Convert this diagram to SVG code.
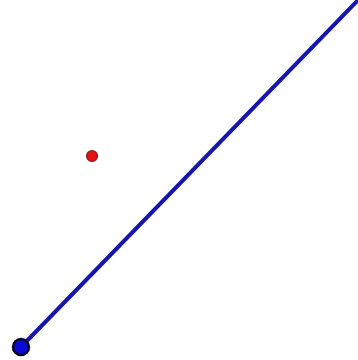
<svg xmlns="http://www.w3.org/2000/svg" width="358" height="360" viewBox="0 0 358 360">
<style>
.ln{stroke:#1515b0;stroke-width:4;fill:none;stroke-linecap:round}
</style>
<rect width="358" height="360" fill="#ffffff"/>
<g id="connectors">
<line class="ln" x1="21" y1="347" x2="362" y2="-4"/>
</g>
<g id="pointA">
<circle cx="21" cy="347" r="8" fill="#0a0ad8" stroke="#0a0a25" stroke-width="2.5"/>
</g>
<g id="pointB">
<circle cx="92" cy="156" r="5.5" fill="#e81010" stroke="#7a2020" stroke-width="1.2"/>
</g>
</svg>
